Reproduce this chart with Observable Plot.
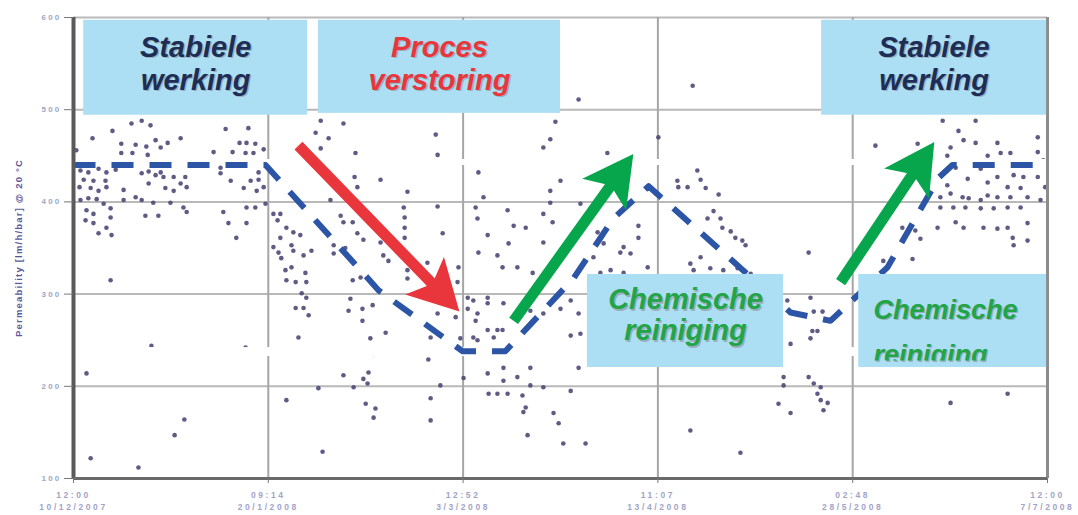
<!DOCTYPE html>
<html lang="nl">
<head>
<meta charset="utf-8">
<script src="https://cdn.jsdelivr.net/npm/d3@7"></script>
<script src="https://cdn.jsdelivr.net/npm/@observablehq/plot@0.6"></script>
<style>
  html, body { margin: 0; padding: 0; background: #ffffff; }
  #grafiek svg { display: block; }
  #grafiek g[aria-label="x-axis tick label"] text { letter-spacing: 2.6px; font-weight: bold; }
  #grafiek g[aria-label="y-axis tick label"] text { letter-spacing: 2.2px; font-weight: bold; }
  #grafiek g[aria-label="y-axis label"] text { letter-spacing: 1.2px; font-weight: bold; font-size: 9.5px; fill: #5a5a9c; }
</style>
</head>
<body>
<div id="grafiek"></div>
<script>
// Meetpunten: tijd in dagen sinds 10/12/2007 12:00, permeabiliteit in l/m²/h/bar @ 20 °C
const tijd = [
  12.5,14.7,16.6,8.4,4.1,10.3,13.4,15.7,17.7,18.8,20.3,23.1,12.7,10.3,16.0,32.8,37.7,35.8,37.3,39.2,30.2,34.3,37.1,38.8,41.0,0.6,
  1.5,3.2,5.4,7.1,9.1,2.2,4.3,6.9,1.3,3.7,5.4,7.1,10.8,1.5,3.2,5.0,6.5,8.0,2.8,4.3,2.6,4.3,8.0,7.1,5.4,8.2,
  10.8,13.4,14.7,17.2,15.5,18.3,20.9,23.7,24.4,19.8,21.6,24.4,23.1,17.7,19.4,21.6,24.1,14.7,16.2,16.2,18.8,
  31.7,33.9,36.7,38.2,39.9,39.5,37.3,39.2,41.4,41.0,32.3,33.4,37.3,35.1,31.7,39.9,
  8.0,16.8,37.1,2.8,23.9,21.8,3.7,14.0,
  43.1,44.6,44.0,45.9,47.4,48.9,43.1,44.2,44.8,47.4,49.6,51.3,45.7,47.0,50.0,45.9,47.9,50.2,49.2,50.2,47.9,49.6,50.7,48.5,44.6,47.0,52.8,45.9,53.7,53.3,52.2,55.0,53.3,55.4,
  58.2,78.1,60.8,78.5,60.6,66.2,72.0,61.2,71.2,78.5,71.4,71.4,71.4,57.6,58.2,60.2,61.2,62.5,66.2,66.8,67.9,56.1,58.6,56.1,60.2,61.9,72.0,72.0,76.3,79.6,83.0,82.8,77.0,
  59.3,62.3,64.5,59.7,62.3,67.3,64.0,78.5,82.4,77.0,83.4,64.7,76.5,58.2,62.5,63.6,60.4,63.4,63.0,65.1,64.7,79.1,77.0,77.0,84.1,
  87.3,88.4,86.7,87.1,89.3,87.3,91.4,93.6,94.9,97.5,93.8,92.5,95.7,99.0,101.3,101.3,102.8,105.0,102.8,103.3,109.3,101.3,102.8,103.9,
  85.0,86.2,89.3,85.0,87.1,89.3,92.7,86.7,89.3,86.2,87.1,91.4,92.5,90.6,98.5,101.3,105.0,107.2,108.9,107.2,109.3,106.5,108.7,
  89.3,92.7,92.7,89.5,91.4,93.6,95.7,96.8,98.5,98.5,101.3,107.2,103.5,104.6,97.5,97.9,97.0,105.6,110.4,108.9,108.9,133.5,
  115.1,126.1,134.5,135.2,130.2,130.4,132.4,136.3,139.1,138.0,136.7,139.5,139.9,141.7,142.7,144.2,144.9,
  121.8,121.8,118.6,120.1,117.9,113.0,114.3,114.3,112.1,123.8,118.6,115.8,113.6,135.2,133.0,133.7,137.3,140.1,143.2,146.0,
  158.5,158.9,159.6,161.5,159.3,160.4,158.9,154.6,153.1,153.1,158.5,159.6,161.1,160.4,161.1,162.6,161.7,152.0,154.6,133.0,143.8,154.6,157.4,153.9,
  187.4,194.5,190.8,194.5,191.9,189.1,172.9,182.0,199.2,207.9,197.1,199.9,202.0,207.9,188.4,190.2,195.6,199.2,202.7,204.8,207.9,192.8,197.1,201.4,204.2,188.4,
  186.9,189.1,191.7,193.0,195.6,197.1,199.2,202.0,205.7,208.5,186.9,189.7,192.3,195.6,198.4,201.4,204.2,
  190.2,191.9,196.2,199.2,201.4,205.7,202.5,202.7,205.7,186.3,178.7,181.5,182.6,174.6,180.9,189.1,201.4,209.1,209.5
];
const permeabiliteit = [
  485,488,483,477,469,463,462,460,467,459,464,469,453,453,451,479,480,464,464,463,454,454,453,453,457,456,
  434,432,436,432,435,424,423,423,416,415,412,416,413,402,404,403,398,393,391,387,380,377,383,372,366,364,
  402,405,402,399,385,385,399,394,389,415,412,416,420,429,427,427,427,431,420,433,432,
  431,423,415,423,424,412,394,394,398,416,389,377,377,361,437,432,
  315,244,242,214,164,147,122,112,
  387,387,380,372,367,364,351,345,339,347,342,347,326,329,323,315,313,313,301,296,285,285,277,253,361,353,198,185,129,488,475,469,458,402,
  485,473,453,451,427,424,411,416,394,395,383,372,361,385,378,378,366,359,356,342,336,353,350,344,315,318,326,317,334,366,329,313,309,
  282,284,288,295,271,258,252,279,275,253,252,235,229,212,208,215,199,203,181,176,166,201,187,163,209,
  432,405,394,382,364,345,342,391,374,372,355,329,329,323,356,387,399,423,412,378,398,459,468,487,
  296,293,296,284,279,290,290,271,261,253,250,261,261,253,282,279,284,293,279,255,257,237,236,
  214,220,206,192,192,192,210,190,220,201,199,195,171,160,177,147,172,138,138,220,511,526,
  453,470,434,424,423,416,416,415,408,390,382,382,372,368,361,358,353,
  374,361,351,344,345,367,367,355,340,329,323,326,323,340,333,326,328,326,328,322,
  345,296,281,281,260,260,252,236,210,201,210,203,199,192,185,182,174,181,171,152,128,246,239,293,
  488,488,477,464,467,459,461,463,464,470,450,453,453,454,450,437,436,427,429,427,427,425,421,416,415,418,
  405,409,405,404,402,407,405,405,405,402,394,394,394,393,393,394,394,
  378,372,372,371,372,377,361,353,358,372,372,369,360,336,338,182,192,445,416
];

// Trendlijn van de permeabiliteit
const trendDag    = [0, 41.4, 65.8, 83.9, 93.1, 107.8, 116.4, 124.0, 141.2, 154.6, 163.2, 175.5, 186.5, 189.5, 210];
const trendWaarde = [440, 440, 304, 238, 238, 317, 382, 417, 340, 280, 271, 329, 426, 440, 440];

// As-indeling
const xTickDagen  = [0, 42, 84, 126, 168, 210];
const xTickLabels = ["12:00\n10/12/2007", "09:14\n20/1/2008", "12:52\n3/3/2008", "11:07\n13/4/2008", "02:48\n28/5/2008", "12:00\n7/7/2008"];
const yTicks      = [100, 200, 300, 400, 500, 600];
const yLabel      = "Permeability [lm/h/bar] @ 20 °C";

// Tekstvakken
const vakTeksten = ["Stabiele\nwerking", "Proces\nverstoring", "Stabiele\nwerking", "Chemische\nreiniging"];
const vakX1 = [2.2, 52.8, 161.3, 110.8];
const vakX2 = [50.5, 105.0, 209.8, 153.1];
const vakY1 = [494, 496, 494, 220.4];
const vakY2 = [597, 597, 597, 321.3];
const vakTekstY = [551, 551, 551, 277.7];
const vakKleur = ["#1d2d55", "#e8363c", "#1d2d55", "#22a447"];

// Rechter vak met afgesneden tweede regel
const vak5 = { x1: 169.3, x2: 209.8, y1: 220.4, y2: 321.3, tekstX: 172.5, regel1: "Chemische", regel1Y: 282.9, regel2: "reiniging", regel2Y: 234.1, grensY: 228 };

// Pijlen: staart -> punt
const pijlX1 = [48.5, 94.9, 165.4];
const pijlY1 = [461, 271, 313];
const pijlX2 = [83.2, 120.7, 185.6];
const pijlY2 = [281, 452, 465];
const pijlKleur = ["#e8363c", "#08a64c", "#08a64c"];

// Strookjes waar de grafiek wit is weggevallen
const stripY1 = [439.5, 232.3];
const stripY2 = [446, 242];

// ---------- opbouw ----------
const W = 1078, H = 515, ML = 73, MR = 31, MT = 17, MB = 37;
const xDomain = [0, 210], yDomain = [100, 600];

const metingen = tijd.map((t, i) => ({ t, p: permeabiliteit[i] }));
const trend = trendDag.map((t, i) => ({ t, p: trendWaarde[i] }));
const vakken = vakTeksten.map((tekst, i) => ({
  tekst, x1: vakX1[i], x2: vakX2[i], y1: vakY1[i], y2: vakY2[i],
  xm: (vakX1[i] + vakX2[i]) / 2, ym: vakTekstY[i], kleur: vakKleur[i]
}));
const strips = stripY1.map((y1, i) => ({ x1: xDomain[0], x2: xDomain[1], y1, y2: stripY2[i] }));
const labelMap = new Map(xTickDagen.map((d, i) => [d, xTickLabels[i]]));

const sx = Plot.scale({ x: { type: "linear", domain: xDomain, range: [ML, W - MR] } });
const sy = Plot.scale({ y: { type: "linear", domain: yDomain, range: [H - MB, MT] } });
const pijlen = pijlX1.map((x1, i) => {
  const dx = sx.apply(pijlX2[i]) - sx.apply(x1);
  const dy = sy.apply(pijlY2[i]) - sy.apply(pijlY1[i]);
  return { x1, y1: pijlY1[i], x2: pijlX2[i], y2: pijlY2[i], kleur: pijlKleur[i], hoek: Math.atan2(dy, dx) * 180 / Math.PI + 90 };
});

// Pijlpunt met inkeping, wijzend naar boven met de punt in de oorsprong
const pijlpunt = {
  draw(ctx, size) {
    const r = Math.sqrt(size / Math.PI);
    const L = 2 * r, w = 1.08 * r, n = 0.45 * r;
    ctx.moveTo(0, 0);
    ctx.lineTo(w, L);
    ctx.lineTo(0, L - n);
    ctx.lineTo(-w, L);
    ctx.closePath();
  }
};

const font = "'Liberation Sans', Arial, sans-serif";
const schaduw = "#8e9aa6";

const plot = Plot.plot({
  width: W, height: H,
  marginLeft: ML, marginRight: MR, marginTop: MT, marginBottom: MB,
  style: { fontFamily: font, background: "#ffffff", overflow: "visible" },
  x: { type: "linear", domain: xDomain },
  y: { type: "linear", domain: yDomain },
  color: { type: "identity" },
  marks: [
    Plot.gridY(yTicks, { stroke: "#b9b9b9", strokeOpacity: 1, strokeWidth: 2 }),
    Plot.gridX(xTickDagen, { stroke: "#a6a6a6", strokeOpacity: 1, strokeWidth: 2 }),
    Plot.dot(metingen, { x: "t", y: "p", r: 2.3, fill: "#4c4977", fillOpacity: 0.9 }),
    Plot.rect(strips, { x1: "x1", x2: "x2", y1: "y1", y2: "y2", fill: "#ffffff" }),
    Plot.line(trend, { x: "t", y: "p", stroke: "#2d55a6", strokeWidth: 6, strokeDasharray: "22,16", strokeLinecap: "butt" }),
    Plot.ruleX([xDomain[1]], { stroke: "#8c8c8c", strokeWidth: 3 }),
    Plot.ruleX([xDomain[0]], { stroke: "#5a5a5a", strokeWidth: 4 }),
    Plot.ruleY([yDomain[0]], { stroke: "#6a6a6a", strokeWidth: 3 }),
    Plot.axisY(yTicks, {
      tickSize: 9, tickPadding: 3, fontSize: 8, fill: "#a3a3c9", stroke: "#777",
      label: yLabel, labelAnchor: "center", labelArrow: "none", labelOffset: 58
    }),
    Plot.axisX(xTickDagen, {
      tickSize: 5, tickPadding: 6, fontSize: 8.5, lineHeight: 1.4, fill: "#a3a3c9", stroke: "#777",
      tickFormat: d => labelMap.get(d), label: null
    }),
    // tekstvakken
    Plot.rect(vakken, { x1: "x1", x2: "x2", y1: "y1", y2: "y2", fill: "#acdff4" }),
    Plot.rect([vak5], { x1: "x1", x2: "x2", y1: "y1", y2: "y2", fill: "#acdff4" }),
    Plot.text(vakken.slice(0, 3), { x: "xm", y: "ym", text: "tekst", dx: 1.5, dy: 1.5, fill: schaduw, fillOpacity: 0.7, fontSize: 29, fontWeight: "bold", fontStyle: "italic", lineHeight: 1.14 }),
    Plot.text(vakken.slice(0, 3), { x: "xm", y: "ym", text: "tekst", fill: "kleur", fontSize: 29, fontWeight: "bold", fontStyle: "italic", lineHeight: 1.14 }),
    Plot.text(vakken.slice(3), { x: "xm", y: "ym", text: "tekst", dx: 1.5, dy: 1.5, fill: schaduw, fillOpacity: 0.7, fontSize: 29, fontWeight: "bold", fontStyle: "italic", lineHeight: 1.07 }),
    Plot.text(vakken.slice(3), { x: "xm", y: "ym", text: "tekst", fill: "kleur", fontSize: 29, fontWeight: "bold", fontStyle: "italic", lineHeight: 1.07 }),
    Plot.text([vak5], { x: "tekstX", y: "regel1Y", text: "regel1", textAnchor: "start", dx: 1.5, dy: 1.5, fill: schaduw, fillOpacity: 0.7, fontSize: 27, fontWeight: "bold", fontStyle: "italic" }),
    Plot.text([vak5], { x: "tekstX", y: "regel1Y", text: "regel1", textAnchor: "start", fill: "#22a447", fontSize: 27, fontWeight: "bold", fontStyle: "italic" }),
    Plot.text([vak5], { x: "tekstX", y: "regel2Y", text: "regel2", textAnchor: "start", dx: 1.5, dy: 1.5, fill: schaduw, fillOpacity: 0.7, fontSize: 27, fontWeight: "bold", fontStyle: "italic" }),
    Plot.text([vak5], { x: "tekstX", y: "regel2Y", text: "regel2", textAnchor: "start", fill: "#22a447", fontSize: 27, fontWeight: "bold", fontStyle: "italic" }),
    // pijlen
    Plot.arrow(pijlen, { x1: "x1", y1: "y1", x2: "x2", y2: "y2", stroke: "kleur", strokeWidth: 11, headLength: 0, insetEnd: 36, strokeLinecap: "butt" }),
    Plot.dot(pijlen, { x: "x2", y: "y2", symbol: pijlpunt, r: 25, fill: "kleur", stroke: "none", rotate: "hoek" })
  ]
});

document.getElementById("grafiek").appendChild(plot);

// Tweede regel van het rechter vak afknippen op de onderkant van het tekstveld
const svg = d3.select(plot);
const clipId = "vak5-clip";
svg.append("defs").append("clipPath").attr("id", clipId).append("rect")
  .attr("x", plot.scale("x").apply(vak5.x1))
  .attr("y", plot.scale("y").apply(vak5.y2))
  .attr("width", plot.scale("x").apply(vak5.x2) - plot.scale("x").apply(vak5.x1))
  .attr("height", plot.scale("y").apply(vak5.grensY) - plot.scale("y").apply(vak5.y2));
svg.selectAll("text").filter(function () { return this.textContent === vak5.regel2; })
  .each(function () { d3.select(this.parentNode).attr("clip-path", `url(#${clipId})`); });
</script>
</body>
</html>
